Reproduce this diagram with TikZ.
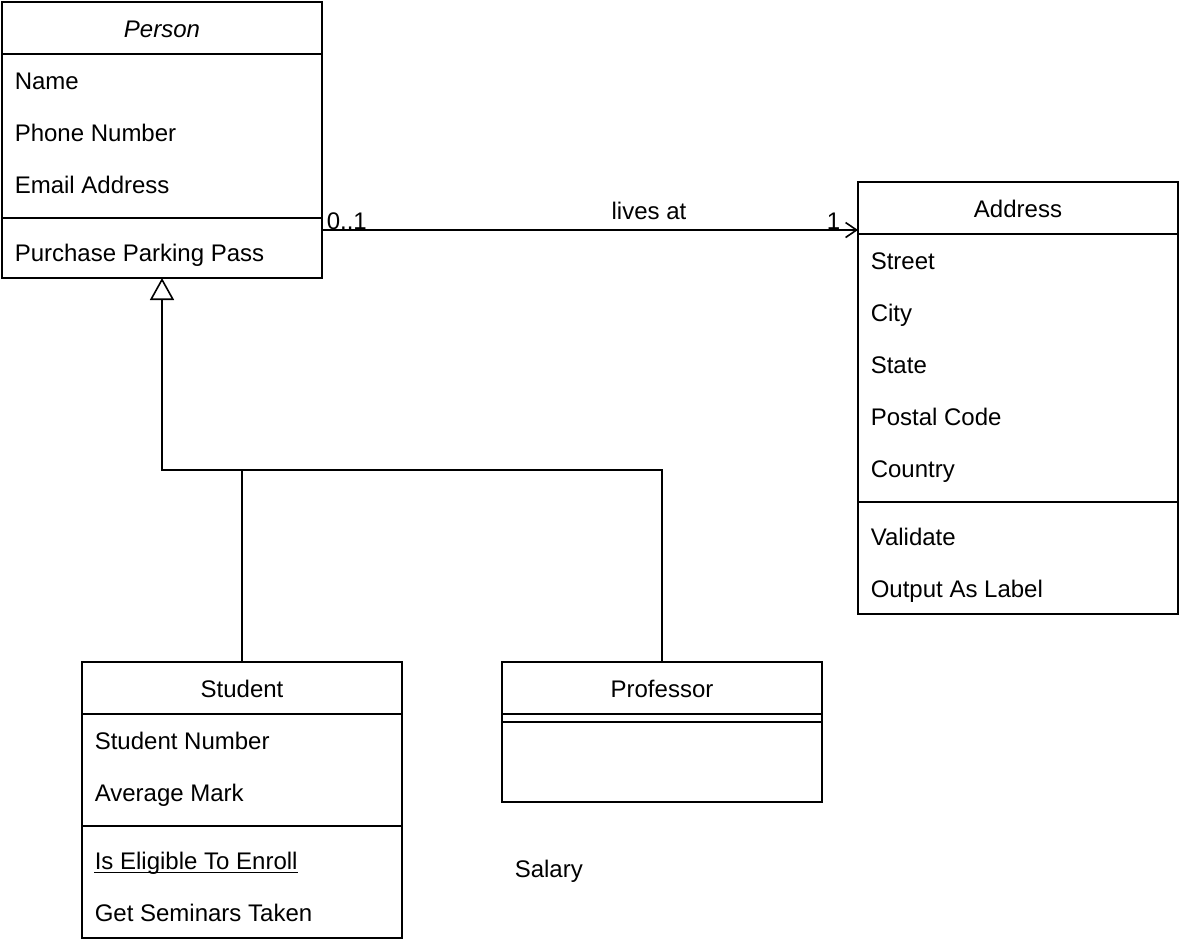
\documentclass[tikz,border=0pt]{standalone}
\usepackage{fontspec}
\setmainfont{Liberation Sans}
\usetikzlibrary{arrows.meta}
\begin{document}
\begin{tikzpicture}[x=1pt,y=-1pt,
  line width=1.6pt,
  font=\fontsize{24}{28}\selectfont,
  box/.style={draw,rectangle,line width=1.6pt,inner sep=0pt,outer sep=0pt,anchor=north west},
  row/.style={anchor=base west,inner sep=0pt},
  head/.style={anchor=base,inner sep=0pt},
  lbl/.style={inner sep=0pt}
]
\useasboundingbox (0,0) rectangle (1181,946);

% Person
\node[box,minimum width=320pt,minimum height=276pt] (person) at (2,2) {};
\draw (2,54) -- (322,54);
\draw (2,218) -- (322,218);
\node[head] (personT) at (162,37.5) {\itshape Person};
\node[row] (pName) at (14,89.5) {Name};
\node[row] (pPhone) at (14,141.5) {Phone Number};
\node[row] (pEmail) at (14,193.5) {Email Address};
\node[row] (pPark) at (14,261.5) {Purchase Parking Pass};

% Address
\node[box,minimum width=320pt,minimum height=432pt] (address) at (858,182) {};
\draw (858,234) -- (1178,234);
\draw (858,502) -- (1178,502);
\node[head] (addressT) at (1018,217.5) {Address};
\node[row] (aStreet) at (870,269.5) {Street};
\node[row] (aCity) at (870,321.5) {City};
\node[row] (aState) at (870,373.5) {State};
\node[row] (aPostal) at (870,425.5) {Postal Code};
\node[row] (aCountry) at (870,477.5) {Country};
\node[row] (aValid) at (870,545.5) {Validate};
\node[row] (aOut) at (870,597.5) {Output As Label};

% Student
\node[box,minimum width=320pt,minimum height=276pt] (student) at (82,662) {};
\draw (82,714) -- (402,714);
\draw (82,826) -- (402,826);
\node[head] (studentT) at (242,697.5) {Student};
\node[row] (sNum) at (94,749.5) {Student Number};
\node[row] (sAvg) at (94,801.5) {Average Mark};
\node[row] (sElig) at (94,869.5) {Is Eligible To Enroll};
\draw[line width=1.4pt] ([yshift=-3pt]sElig.base west) -- ([yshift=-3pt]sElig.base east);
\node[row] (sSem) at (94,921.5) {Get Seminars Taken};

% Professor
\node[box,minimum width=320pt,minimum height=140pt] (prof) at (502,662) {};
\draw (502,714) -- (822,714);
\draw (502,722) -- (822,722);
\node[head] (profT) at (662,697.5) {Professor};

% Salary free text
\node[row] (salary) at (514,877.5) {Salary};

% association
\coordinate (assocA) at (322,230);
\coordinate (assocB) at (858,230);
\draw[-{Straight Barb[length=11pt,width=15pt,line width=1.6pt]}] (assocA) -- (assocB);
\node[lbl,anchor=base west] (m1) at (326,229) {0..1};
\node[lbl,anchor=base east] (m2) at (841,229) {1};
\node[lbl,anchor=base] (livesat) at (649,219.5) {lives at};

% generalization
\coordinate (join) at (242,470);
\coordinate (personB) at (162,278);
\draw[-{Triangle[open,length=22pt,width=24pt,line width=1.6pt]}] (student.north) -- (join) -| (personB);
\draw (prof.north) |- (join);
\end{tikzpicture}
\end{document}
